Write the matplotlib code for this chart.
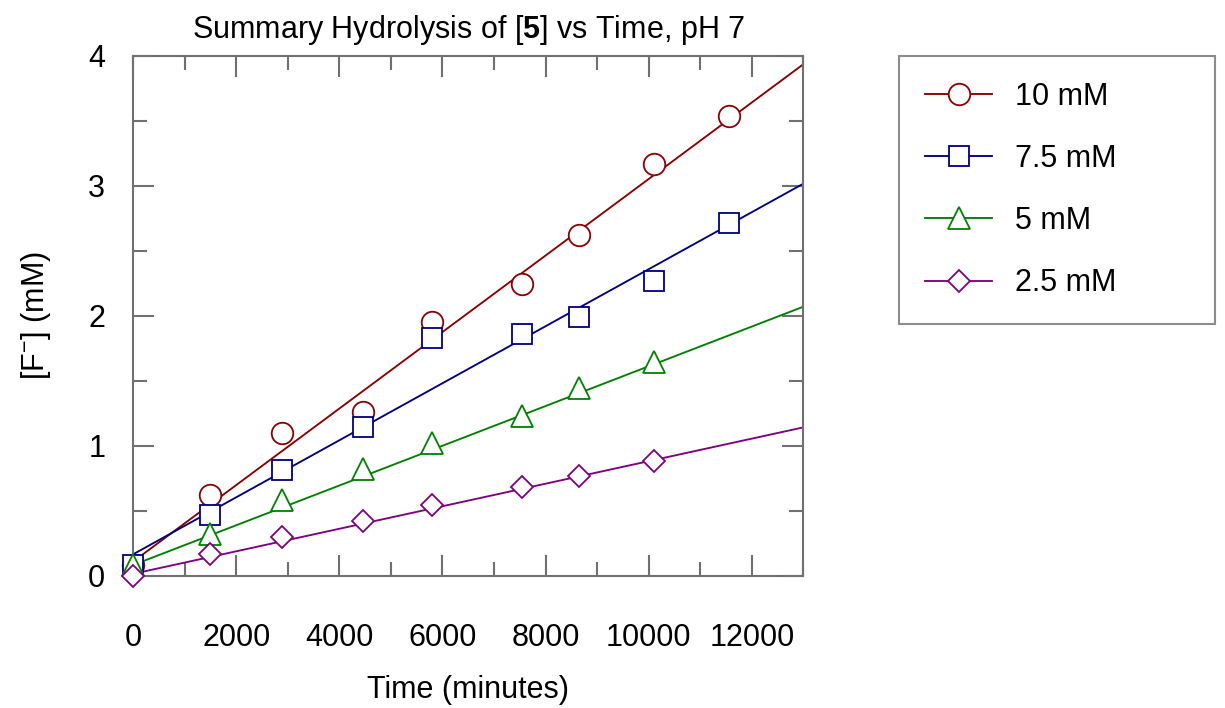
import matplotlib
matplotlib.use('Agg')
import matplotlib.pyplot as plt
from matplotlib.ticker import MultipleLocator
import numpy as np

plt.rcParams['font.family'] = ['Liberation Sans', 'DejaVu Sans']
plt.rcParams['mathtext.fontset'] = 'custom'
plt.rcParams['mathtext.rm'] = 'Liberation Sans'
plt.rcParams['mathtext.bf'] = 'Liberation Sans:bold'
plt.rcParams['mathtext.it'] = 'Liberation Sans:italic'

# data
time_min = [0, 1500, 2880, 4450, 5800, 7550, 8650, 10100, 11550]
f_10mM = [0.08, 0.62, 1.10, 1.26, 1.95, 2.24, 2.62, 3.17, 3.54]
f_7p5mM = [0.08, 0.47, 0.81, 1.14, 1.83, 1.86, 1.99, 2.27, 2.71]
f_5mM = [0.08, 0.32, 0.58, 0.82, 1.02, 1.23, 1.44, 1.64]
f_2p5mM = [0.00, 0.17, 0.30, 0.42, 0.54, 0.68, 0.77, 0.88]

labels = ['10 mM', '7.5 mM', '5 mM', '2.5 mM']
colors = ['#8b0000', '#000080', '#008000', '#800080']
markers = ['o', 's', '^', 'D']
msizes = [15.5, 15, 16, 11.5]

# linear fits (slope per minute, intercept)
fit_slope = [2.944e-4, 2.194e-4, 1.529e-4, 8.67e-5]
fit_icept = [0.108, 0.164, 0.082, 0.014]

series = [f_10mM, f_7p5mM, f_5mM, f_2p5mM]
gray = '#707070'

fig = plt.figure(figsize=(12.25, 7.08), dpi=100)
ax = fig.add_axes([0.1086, 0.1869, 0.5473, 0.7344])

xfit = np.array([0, 13000])
for i, ys in enumerate(series):
    ax.plot(xfit, fit_slope[i] * xfit + fit_icept[i], color=colors[i], lw=1.35, zorder=2)
for i, ys in enumerate(series):
    xs = time_min[:len(ys)]
    ax.plot(xs, ys, ls='none', marker=markers[i], ms=msizes[i], mfc='white',
            mec=colors[i], mew=1.3, zorder=3 + i, clip_on=False)

ax.set_xlim(0, 13000)
ax.set_ylim(0, 4)
ax.xaxis.set_major_locator(MultipleLocator(2000))
ax.xaxis.set_minor_locator(MultipleLocator(1000))
ax.yaxis.set_major_locator(MultipleLocator(1))
ax.yaxis.set_minor_locator(MultipleLocator(0.5))
ax.tick_params(which='both', direction='in', top=True, right=True, color=gray,
               width=1.5, labelsize=22)
ax.tick_params(which='major', length=15)
ax.tick_params(which='minor', length=10)
ax.tick_params(axis='x', pad=34)
ax.tick_params(axis='y', pad=20)
for s in ax.spines.values():
    s.set_color(gray)
    s.set_linewidth(1.5)

ax.set_title(r'Summary Hydrolysis of [$\mathbf{5}$] vs Time, pH 7', fontsize=22, pad=13)
ax.set_xlabel('Time (minutes)', fontsize=22, labelpad=16)
ax.set_ylabel(r'[F$^{-}$] (mM)', fontsize=22, labelpad=25)

handles = [plt.Line2D([], [], color=colors[i], lw=1.35, marker=markers[i], ms=msizes[i],
                      mfc='white', mec=colors[i], mew=1.3) for i in range(4)]
leg = fig.legend(handles, labels, loc='upper left',
                 bbox_to_anchor=(899 / 1225, 1 - 56 / 708 - 0.01, (1215 - 899) / 1225, 0.01),
                 mode='expand', fontsize=22, frameon=True, fancybox=False,
                 edgecolor=gray, borderpad=0.85, labelspacing=1.05, handlelength=2.2,
                 handletextpad=0.75, borderaxespad=0, numpoints=1)
leg.get_frame().set_linewidth(1.5)

fig.savefig('out.png', dpi=100)
